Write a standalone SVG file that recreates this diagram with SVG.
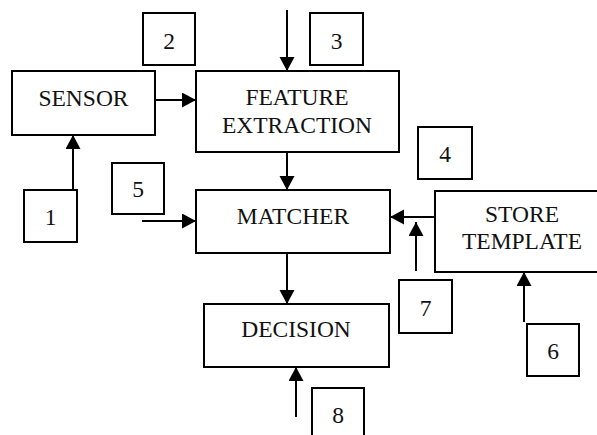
<svg xmlns="http://www.w3.org/2000/svg" width="597" height="435" viewBox="0 0 597 435">
<defs>
<style>
.box{fill:#fff;stroke:#000;stroke-width:2}
.t{font-family:"Liberation Serif","Times New Roman",serif;font-size:23.5px;fill:#111;text-anchor:middle}
.c line{stroke:#000;stroke-width:2;marker-end:url(#ah)}
</style>
<marker id="ah" markerUnits="userSpaceOnUse" markerWidth="15" markerHeight="16" refX="14" refY="7.5" orient="auto">
<path d="M0,0 L14,7.5 L0,15 z" fill="#000"/>
</marker>
</defs>
<rect width="597" height="435" fill="#fff"/>
<g class="c" id="connectors">
<line x1="73" y1="190" x2="73" y2="135"/>
<line x1="155" y1="100" x2="196" y2="100"/>
<line x1="287" y1="10" x2="287" y2="71"/>
<line x1="287" y1="152" x2="287" y2="190"/>
<line x1="142" y1="221" x2="196" y2="221"/>
<line x1="435" y1="217" x2="390" y2="217"/>
<line x1="416" y1="271" x2="416" y2="222"/>
<line x1="524" y1="322" x2="524" y2="272"/>
<line x1="287" y1="253" x2="287" y2="304"/>
<line x1="296" y1="417" x2="296" y2="367"/>
</g>
<g id="sensor"><rect class="box" x="12" y="71" width="143" height="64"/><text class="t" x="83.5" y="106">SENSOR</text></g>
<g id="feature"><rect class="box" x="196" y="71" width="203" height="81"/><text class="t" x="297" y="105">FEATURE</text><text class="t" x="297" y="132.5">EXTRACTION</text></g>
<g id="matcher"><rect class="box" x="196" y="190" width="194" height="63"/><text class="t" x="293" y="223.5">MATCHER</text></g>
<g id="store"><rect class="box" x="435" y="191" width="175" height="81"/><text class="t" x="522" y="221.5">STORE</text><text class="t" x="522" y="249">TEMPLATE</text></g>
<g id="decision"><rect class="box" x="204" y="304" width="185" height="63"/><text class="t" x="296" y="336.5">DECISION</text></g>
<g id="n1"><rect class="box" x="24" y="190" width="53" height="52"/><text class="t" x="50.5" y="225">1</text></g>
<g id="n2"><rect class="box" x="143" y="13" width="52" height="52"/><text class="t" x="169" y="48.5">2</text></g>
<g id="n3"><rect class="box" x="310" y="13" width="53" height="52"/><text class="t" x="336.5" y="48.5">3</text></g>
<g id="n4"><rect class="box" x="418" y="127" width="54" height="52"/><text class="t" x="445" y="161.5">4</text></g>
<g id="n5"><rect class="box" x="112" y="163" width="52" height="51"/><text class="t" x="138" y="196.5">5</text></g>
<g id="n6"><rect class="box" x="527" y="324" width="52" height="52"/><text class="t" x="553" y="359">6</text></g>
<g id="n7"><rect class="box" x="399" y="280" width="53" height="53"/><text class="t" x="425.5" y="315.5">7</text></g>
<g id="n8"><rect class="box" x="312" y="388" width="52" height="60"/><text class="t" x="338" y="422.5">8</text></g>
</svg>
